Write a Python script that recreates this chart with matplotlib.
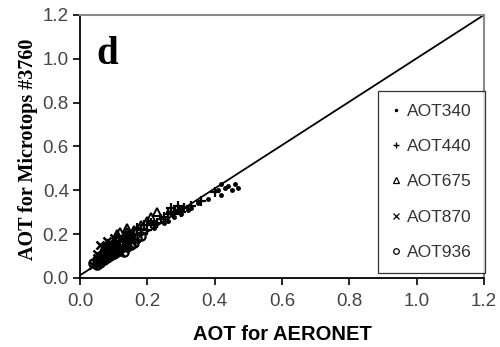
import matplotlib
matplotlib.use("Agg")
import matplotlib.pyplot as plt
import numpy as np

# AOT retrieved by AERONET (x) vs. Microtops #3760 (y), per wavelength
aot340_x = [0.22, 0.25, 0.26, 0.28, 0.29, 0.30, 0.32, 0.33, 0.35, 0.38, 0.41, 0.42, 0.43, 0.44, 0.45, 0.46, 0.47, 0.42]
aot340_y = [0.23, 0.25, 0.26, 0.28, 0.30, 0.29, 0.31, 0.32, 0.34, 0.36, 0.40, 0.38, 0.41, 0.42, 0.40, 0.43, 0.41, 0.43]

aot440_x = [0.12, 0.13, 0.14, 0.15, 0.16, 0.17, 0.18, 0.19, 0.20, 0.21, 0.22, 0.23, 0.24, 0.25, 0.26, 0.27, 0.28, 0.29, 0.30, 0.31, 0.33, 0.36, 0.40, 0.27, 0.29]
aot440_y = [0.15, 0.17, 0.18, 0.19, 0.20, 0.23, 0.22, 0.24, 0.22, 0.25, 0.24, 0.25, 0.27, 0.28, 0.29, 0.30, 0.29, 0.31, 0.30, 0.32, 0.33, 0.35, 0.39, 0.32, 0.33]

aot675_x = [0.07, 0.08, 0.09, 0.10, 0.10, 0.11, 0.12, 0.12, 0.13, 0.14, 0.15, 0.16, 0.18, 0.20, 0.21, 0.23, 0.11, 0.14]
aot675_y = [0.10, 0.12, 0.13, 0.15, 0.16, 0.18, 0.21, 0.17, 0.19, 0.21, 0.20, 0.22, 0.24, 0.26, 0.28, 0.30, 0.20, 0.23]

aot870_x = [0.04, 0.05, 0.05, 0.06, 0.06, 0.07, 0.07, 0.08, 0.08, 0.09, 0.09, 0.10, 0.10, 0.11, 0.12, 0.13, 0.14, 0.15,
            0.06, 0.08, 0.07, 0.09, 0.10, 0.11, 0.12, 0.05]
aot870_y = [0.06, 0.07, 0.09, 0.08, 0.10, 0.09, 0.12, 0.10, 0.13, 0.11, 0.14, 0.12, 0.15, 0.13, 0.14, 0.16, 0.15, 0.17,
            0.15, 0.17, 0.14, 0.16, 0.18, 0.16, 0.12, 0.11]

aot936_x = [0.04, 0.05, 0.05, 0.06, 0.06, 0.07, 0.07, 0.08, 0.08, 0.09, 0.09, 0.10, 0.11, 0.12, 0.13, 0.14, 0.15, 0.16, 0.17, 0.18]
aot936_y = [0.07, 0.06, 0.08, 0.07, 0.09, 0.08, 0.11, 0.09, 0.12, 0.10, 0.14, 0.11, 0.12, 0.13, 0.12, 0.14, 0.15, 0.16, 0.18, 0.19]

# linear fit through all points
fit_slope = 0.99
fit_intercept = 0.012

xticks = [0.0, 0.2, 0.4, 0.6, 0.8, 1.0, 1.2]
yticks = [0.0, 0.2, 0.4, 0.6, 0.8, 1.0, 1.2]

fig = plt.figure(figsize=(5.0, 3.47), dpi=100)
ax = fig.add_axes([0.16, 0.199, 0.808, 0.758])

series = [
    (aot340_x, aot340_y, "AOT340",
     dict(marker=".", markersize=5, markerfacecolor="black"),
     dict(marker=".", markersize=3)),
    (aot440_x, aot440_y, "AOT440",
     dict(marker="+", markersize=7, markeredgewidth=1.6),
     dict(marker="+", markersize=5, markeredgewidth=1.0)),
    (aot675_x, aot675_y, "AOT675",
     dict(marker="^", markersize=6, markerfacecolor="none", markeredgewidth=1.4),
     dict(marker="^", markersize=4, markerfacecolor="none", markeredgewidth=0.9)),
    (aot870_x, aot870_y, "AOT870",
     dict(marker="x", markersize=6, markeredgewidth=1.8),
     dict(marker="x", markersize=4, markeredgewidth=0.9)),
    (aot936_x, aot936_y, "AOT936",
     dict(marker="o", markersize=6, markerfacecolor="none", markeredgewidth=1.6),
     dict(marker="o", markersize=4, markerfacecolor="none", markeredgewidth=0.9)),
]
handles = []
for xs, ys, lab, style, lstyle in series:
    ax.plot(xs, ys, linestyle="none", color="black", **style)
    h, = ax.plot([], [], linestyle="none", color="black", label=lab, **lstyle)
    handles.append(h)

xl = np.array([0.0, 1.2])
ax.plot(xl, fit_slope * xl + fit_intercept, color="black", linewidth=1.3)

ax.set_xlim(0, 1.2)
ax.set_ylim(0, 1.2)
ax.set_xticks(xticks)
ax.set_yticks(yticks)
ax.set_xticklabels([f"{t:.1f}" for t in xticks])
ax.set_yticklabels([f"{t:.1f}" for t in yticks])
ax.tick_params(direction="out", length=5, width=1.2, colors="black",
               labelcolor="#444444", labelsize=13.5)
ax.tick_params(axis="y", pad=3)
ax.tick_params(axis="x", pad=6)
for lbl in ax.get_xticklabels() + ax.get_yticklabels():
    lbl.set_family("Liberation Sans")

for s in ("left", "bottom"):
    ax.spines[s].set_color("black")
    ax.spines[s].set_linewidth(1.3)
for s in ("top", "right"):
    ax.spines[s].set_color("#888888")
    ax.spines[s].set_linewidth(1.5)

ax.set_xlabel("AOT for AERONET", family="Liberation Sans", fontweight="bold",
              fontsize=14.5)
ax.xaxis.set_label_coords(0.5, -0.18)
ax.set_ylabel("AOT for Microtops #3760", family="Liberation Serif", fontweight="bold",
              fontsize=14.5)
ax.yaxis.set_label_coords(-0.104, 0.49)

ax.text(0.04, 0.92, "d", transform=ax.transAxes, family="Liberation Serif",
        fontweight="bold", fontsize=28, va="top", ha="left")

leg = ax.legend(handles=handles, loc="lower right", bbox_to_anchor=(1.002, 0.019),
                borderaxespad=0, frameon=True, fancybox=False, edgecolor="black",
                handlelength=0.6, handletextpad=0.35, labelspacing=1.16, borderpad=0.75,
                prop={"family": "Liberation Sans", "size": 12.5})
leg.get_frame().set_linewidth(0.9)
for t in leg.get_texts():
    t.set_color("#333333")

fig.savefig("out.png", dpi=100)
